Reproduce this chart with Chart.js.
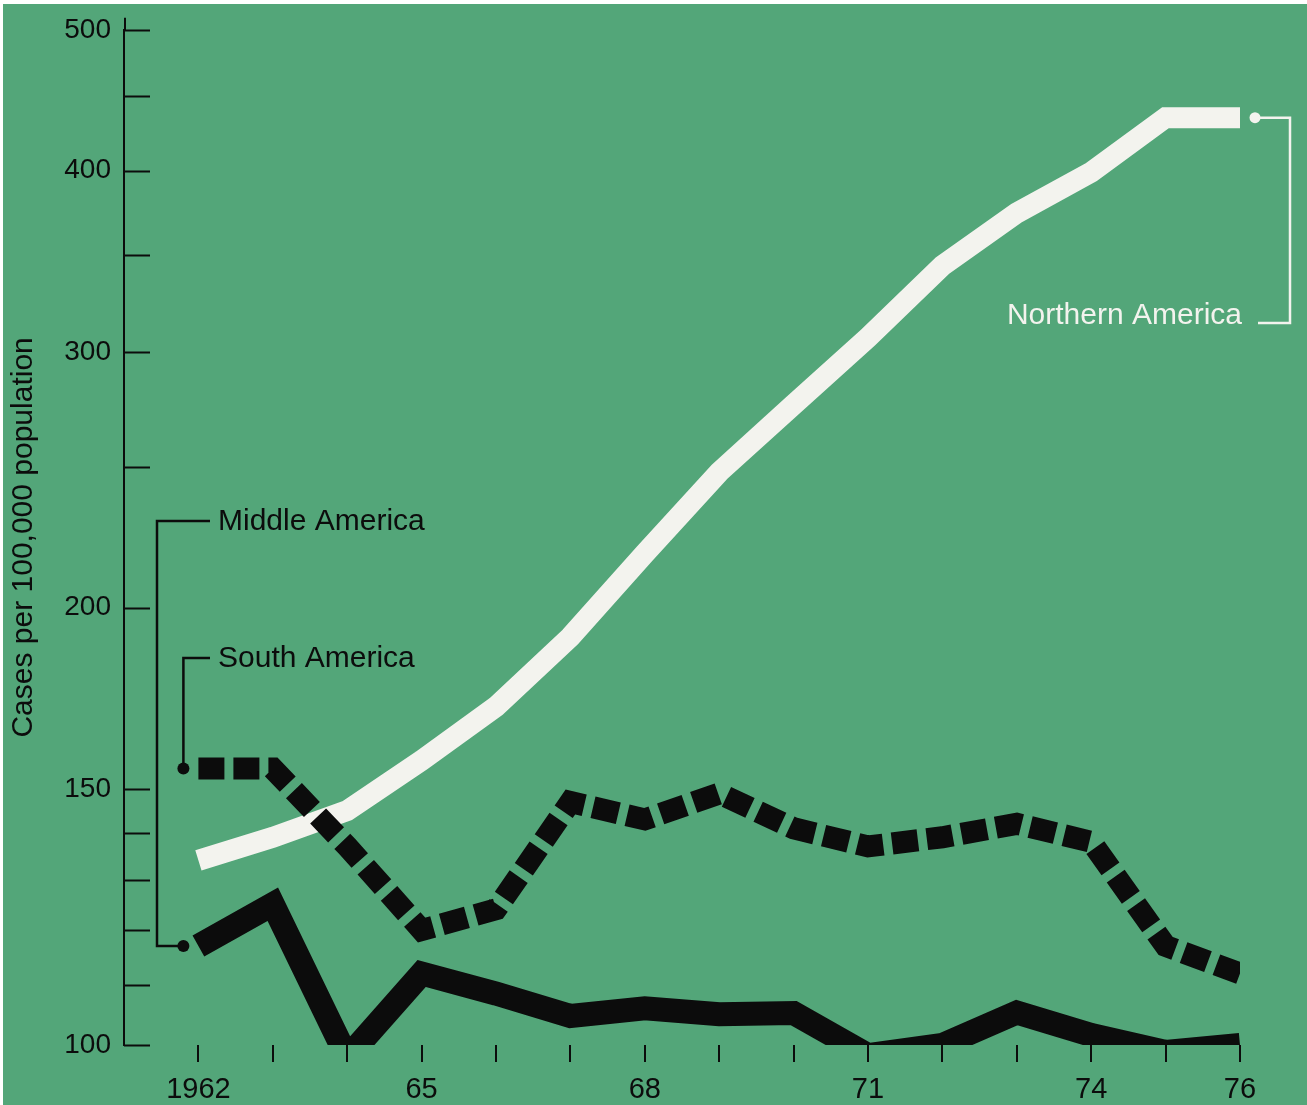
<!DOCTYPE html>
<html>
<head>
<meta charset="utf-8">
<title>Cases per 100,000 population, the Americas 1962-76</title>
<script src="https://cdn.jsdelivr.net/npm/chart.js"></script>
<style>
  html, body { margin: 0; padding: 0; background: #53a679; overflow: hidden; }
  #wrap { width: 1307px; height: 1105px; }
  #chart { display: block; }
</style>
</head>
<body>
<div id="wrap"><canvas id="chart" width="1307" height="1105"></canvas></div>
<script>
// Data
const years = [1962, 1963, 1964, 1965, 1966, 1967, 1968, 1969, 1970, 1971, 1972, 1973, 1974, 1975, 1976];
const northernAmerica = [134, 139, 145, 157, 171, 191, 218, 248, 276, 307, 344, 374, 399, 435, 435];
const southAmerica = [155, 155, 137, 120, 124, 147, 143, 149, 141, 137, 139, 142, 138, 117, 112];
const middleAmerica = [117, 125, 98, 112, 108.5, 104.7, 106, 105, 105.2, 98.4, 100, 105.3, 101.6, 98.9, 100];

// Axis ticks
const yTicks = [100, 110, 120, 130, 140, 150, 200, 250, 300, 350, 400, 450, 500];
const yLabelled = [100, 150, 200, 300, 400, 500];
const xLabels = { 1962: '1962', 1965: '65', 1968: '68', 1971: '71', 1974: '74', 1976: '76' };

const GREEN = '#53a679';
const INK = '#0c0c0c';
const PAPER = '#f3f3ee';
const FONT = "'Liberation Sans', Arial, sans-serif";

const toPoints = (arr) => years.map((yr, i) => ({ x: yr, y: arr[i] }));

// Green page behind the chart
const background = {
  id: 'background',
  beforeDraw(chart) {
    const ctx = chart.ctx;
    ctx.save();
    ctx.fillStyle = '#ffffff';
    ctx.fillRect(0, 0, chart.width, chart.height);
    ctx.fillStyle = GREEN;
    ctx.fillRect(3, 4, chart.width - 3, chart.height - 4);
    ctx.restore();
  }
};

// Inward tick marks on the y axis, and the leader lines with their labels
const decorations = {
  id: 'decorations',
  afterDraw(chart) {
    const ctx = chart.ctx;
    const x = chart.scales.x;
    const y = chart.scales.y;
    const left = chart.chartArea.left;

    ctx.save();
    ctx.strokeStyle = INK;
    ctx.lineWidth = 2;
    ctx.beginPath();
    yTicks.forEach(v => {
      const py = Math.round(y.getPixelForValue(v)) + 0.5;
      ctx.moveTo(left, py);
      ctx.lineTo(left + 26, py);
    });
    // axis line runs a little above the top tick
    ctx.moveTo(left + 1, chart.chartArea.top);
    ctx.lineTo(left + 1, chart.chartArea.top - 12);
    ctx.stroke();

    const dot = (px, py, r, color) => {
      ctx.fillStyle = color;
      ctx.beginPath();
      ctx.arc(px, py, r, 0, Math.PI * 2);
      ctx.fill();
    };

    ctx.font = '30px ' + FONT;
    ctx.textBaseline = 'middle';
    ctx.lineWidth = 2.5;

    // Middle America
    const dotX = x.getPixelForValue(years[0]) - 15;
    const midY = y.getPixelForValue(middleAmerica[0]);
    ctx.strokeStyle = INK;
    ctx.beginPath();
    ctx.moveTo(210, 521);
    ctx.lineTo(157, 521);
    ctx.lineTo(157, midY);
    ctx.lineTo(dotX, midY);
    ctx.stroke();
    dot(dotX, midY, 6, INK);
    ctx.fillStyle = INK;
    ctx.textAlign = 'left';
    ctx.fillText('Middle America', 218, 522);

    // South America
    const southY = y.getPixelForValue(southAmerica[0]);
    ctx.beginPath();
    ctx.moveTo(210, 658);
    ctx.lineTo(dotX, 658);
    ctx.lineTo(dotX, southY);
    ctx.stroke();
    dot(dotX, southY, 6, INK);
    ctx.fillStyle = INK;
    ctx.fillText('South America', 218, 659);

    // Northern America
    const endX = x.getPixelForValue(years[years.length - 1]) + 15;
    const northY = y.getPixelForValue(northernAmerica[northernAmerica.length - 1]);
    ctx.strokeStyle = PAPER;
    ctx.beginPath();
    ctx.moveTo(endX, northY);
    ctx.lineTo(1290, northY);
    ctx.lineTo(1290, 323);
    ctx.lineTo(1258, 323);
    ctx.stroke();
    dot(endX, northY, 5.5, PAPER);
    ctx.fillStyle = PAPER;
    ctx.textAlign = 'right';
    ctx.fillText('Northern America', 1242, 316);
    ctx.restore();
  }
};

const lineStyle = {
  fill: false,
  pointRadius: 0,
  pointHoverRadius: 0,
  tension: 0,
  borderCapStyle: 'butt',
  borderJoinStyle: 'miter',
  clip: 0
};

new Chart(document.getElementById('chart'), {
  type: 'line',
  data: {
    datasets: [
      Object.assign({
        label: 'South America',
        data: toPoints(southAmerica),
        borderColor: INK,
        borderWidth: 22,
        borderDash: [26, 9],
        order: 0
      }, lineStyle),
      Object.assign({
        label: 'Middle America',
        data: toPoints(middleAmerica),
        borderColor: INK,
        borderWidth: 24,
        order: 1
      }, lineStyle),
      Object.assign({
        label: 'Northern America',
        data: toPoints(northernAmerica),
        borderColor: PAPER,
        borderWidth: 21,
        order: 2
      }, lineStyle)
    ]
  },
  options: {
    responsive: false,
    animation: false,
    devicePixelRatio: 1,
    layout: { padding: { top: 25, right: 67, left: 0, bottom: 0 } },
    plugins: {
      legend: { display: false },
      tooltip: { enabled: false },
      title: { display: false }
    },
    scales: {
      x: {
        type: 'linear',
        min: 1961,
        max: 1976,
        afterBuildTicks: (scale) => { scale.ticks = years.map(v => ({ value: v })); },
        afterFit: (scale) => { scale.height = 60; },
        border: { display: false },
        grid: {
          drawOnChartArea: false,
          drawTicks: true,
          tickLength: 17,
          color: INK,
          lineWidth: 2
        },
        ticks: {
          autoSkip: false,
          maxRotation: 0,
          padding: 11,
          color: INK,
          font: { family: FONT, size: 29 },
          callback: (v) => xLabels[v] || ''
        }
      },
      y: {
        type: 'logarithmic',
        min: 100,
        max: 500,
        afterBuildTicks: (scale) => { scale.ticks = yTicks.map(v => ({ value: v })); },
        afterFit: (scale) => { scale.width = 124; },
        border: { display: true, color: INK, width: 2 },
        grid: { display: false, drawTicks: false },
        ticks: {
          autoSkip: false,
          padding: 13,
          color: INK,
          font: { family: FONT, size: 28 },
          callback: (v) => yLabelled.includes(v) ? String(v) : ''
        },
        title: {
          display: true,
          text: 'Cases per 100,000 population',
          color: INK,
          font: { family: FONT, size: 30 },
          padding: { top: 6, bottom: 0 }
        }
      }
    }
  },
  plugins: [background, decorations]
});
</script>
</body>
</html>
